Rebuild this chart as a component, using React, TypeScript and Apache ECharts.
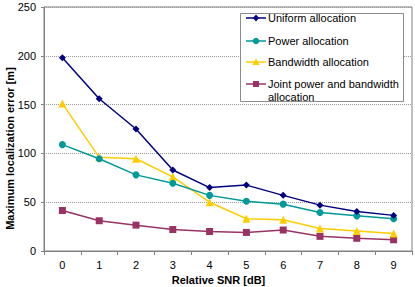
import React, { useEffect, useRef } from "react";
import * as echarts from "echarts";

const snrLabels = ["0", "1", "2", "3", "4", "5", "6", "7", "8", "9"];
const uniformAllocation = [198, 156, 125, 83, 65, 67.5, 57, 47, 40.5, 36.5];
const powerAllocation = [109, 94.5, 78, 69.5, 57, 51, 48, 39.5, 36, 33];
const bandwidthAllocation = [151, 96, 94.5, 76, 50, 33, 32, 23, 20.5, 18];
const jointAllocation = [41.5, 31, 26.5, 22, 20, 19, 21.5, 15, 13, 11.5];
const seriesNames = [
  "Uniform allocation",
  "Power allocation",
  "Bandwidth allocation",
  "Joint power and bandwidth allocation",
];
const legendLines = [
  ["Uniform allocation"],
  ["Power allocation"],
  ["Bandwidth allocation"],
  ["Joint power and bandwidth", "allocation"],
];

const FONT = "'Liberation Sans', Arial, sans-serif";
const colors = ["#000080", "#009999", "#FFCC00", "#993366"];
const symbols = ["diamond", "circle", "triangle", "rect"];
const symbolSizes = [7, 7, 8, 7];

function legendGraphic() {
  const els: any[] = [];
  els.push({
    type: "rect",
    shape: { x: 240.5, y: 13.5, width: 163, height: 88 },
    style: { fill: "#fff", stroke: "#8c8c8c", lineWidth: 1 },
    z: 10,
  });
  const ys = [18, 41, 62, 84];
  ys.forEach((y, i) => {
    const c = colors[i];
    els.push({
      type: "line",
      shape: { x1: 246, y1: y, x2: 266, y2: y },
      style: { stroke: c, lineWidth: 1.5 },
      z: 11,
    });
    const cx = 256;
    if (i === 0) {
      els.push({
        type: "polygon",
        shape: { points: [[cx, y - 3.5], [cx + 3, y], [cx, y + 3.5], [cx - 3, y]] },
        style: { fill: c },
        z: 12,
      });
    } else if (i === 1) {
      els.push({ type: "circle", shape: { cx, cy: y, r: 3.2 }, style: { fill: c }, z: 12 });
    } else if (i === 2) {
      els.push({
        type: "polygon",
        shape: { points: [[cx, y - 3.5], [cx + 3.5, y + 3], [cx - 3.5, y + 3]] },
        style: { fill: c },
        z: 12,
      });
    } else {
      els.push({ type: "rect", shape: { x: cx - 3, y: y - 3, width: 6, height: 6 }, style: { fill: c }, z: 12 });
    }
    legendLines[i].forEach((t, k) => {
      els.push({
        type: "text",
        x: 268,
        y: y + k * 13,
        style: {
          text: t,
          fontSize: 11,
          fontFamily: FONT,
          fill: "#000",
          verticalAlign: "middle",
          align: "left",
        },
        z: 12,
      });
    });
  });
  return els;
}

export default function App() {
  const ref = useRef<HTMLDivElement>(null);
  useEffect(() => {
    if (!ref.current) return;
    const chart = echarts.init(ref.current, null, { renderer: "svg" });
    const data = [uniformAllocation, powerAllocation, bandwidthAllocation, jointAllocation];
    chart.setOption({
      animation: false,
      backgroundColor: "#fff",
      textStyle: { fontFamily: FONT },
      grid: {
        left: 44,
        right: 3,
        top: 7,
        bottom: 36,
        show: true,
        borderColor: "#808080",
        borderWidth: 1,
        containLabel: false,
        outerBoundsMode: "none",
      },
      xAxis: {
        type: "category",
        data: snrLabels,
        boundaryGap: true,
        name: "Relative SNR [dB]",
        nameLocation: "middle",
        nameGap: 23,
        nameMoveOverlap: false,
        nameTextStyle: {
          fontSize: 11,
          fontWeight: "bold",
          color: "#000",
          fontFamily: FONT,
          padding: [0, 19, 0, 0],
        },
        axisLine: { lineStyle: { color: "#808080", width: 1 } },
        axisTick: { show: true, length: 4, alignWithLabel: false, lineStyle: { color: "#808080" } },
        axisLabel: { fontSize: 11, color: "#000", margin: 8, fontFamily: FONT },
        splitLine: { show: false },
      },
      yAxis: {
        type: "value",
        min: 0,
        max: 250,
        interval: 50,
        name: "Maximum localization error [m]",
        nameLocation: "middle",
        nameGap: 29,
        nameMoveOverlap: false,
        nameTextStyle: {
          fontSize: 11,
          fontWeight: "bold",
          color: "#000",
          fontFamily: FONT,
          padding: [0, 39, 0, 0],
        },
        axisLine: { show: true, lineStyle: { color: "#808080", width: 1 } },
        axisTick: { show: true, length: 3, lineStyle: { color: "#808080" } },
        axisLabel: { fontSize: 11, color: "#000", margin: 8, fontFamily: FONT },
        splitLine: { show: true, lineStyle: { color: "#999", type: "dotted", width: 1 } },
      },
      series: data.map((d, i) => ({
        name: seriesNames[i],
        type: "line",
        data: d,
        symbol: symbols[i],
        symbolSize: symbolSizes[i],
        showAllSymbol: true,
        lineStyle: { color: colors[i], width: 1.5 },
        itemStyle: { color: colors[i] },
        z: 3 + (3 - i),
      })),
      graphic: legendGraphic(),
    });
    return () => chart.dispose();
  }, []);
  return (
    <div
      ref={ref}
      style={{ position: "fixed", left: 0, top: 0, width: 415, height: 287 }}
    />
  );
}
